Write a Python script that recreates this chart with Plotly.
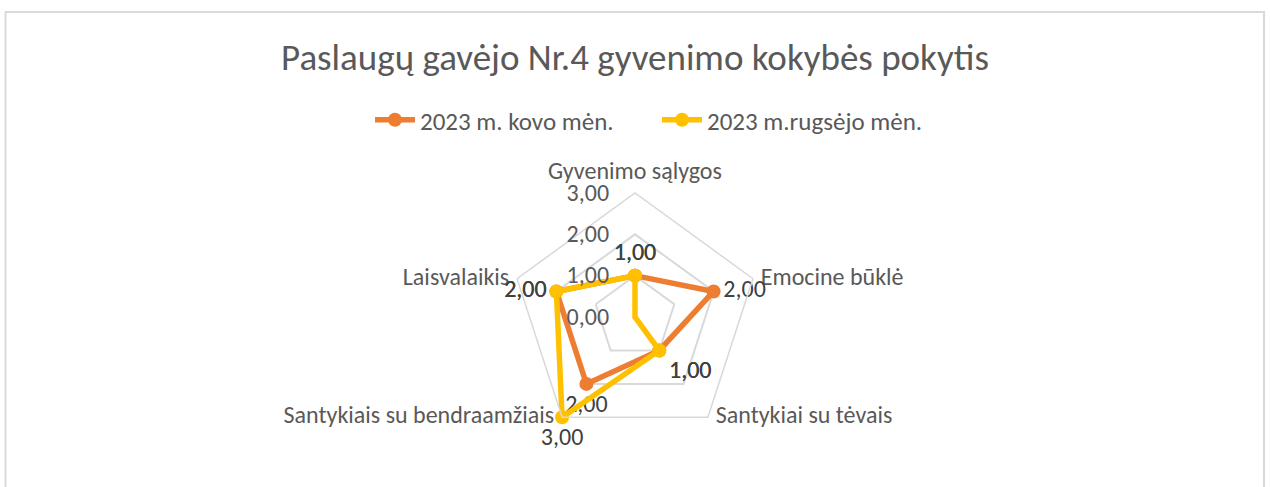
import plotly.graph_objects as go

categories = ["Gyvenimo sąlygos", "Emocine būklė", "Santykiai su tėvais",
              "Santykiais su bendraamžiais", "Laisvalaikis"]
series_names = ["2023 m. kovo mėn.", "2023 m.rugsėjo mėn."]
kovo_values = [1, 2, 1, 2, 2]
rugsejo_values = [1, 0, 1, 3, 2]
radial_ticks = [0, 1, 2, 3]
radial_max = 3

colors = ["#ED7D31", "#FFC000"]
label_pos = [
    ["top center", "middle right", "bottom right", "bottom center", "middle left"],
    ["top center", "middle right", "bottom right", "bottom center", "middle left"],
]
category_pos = ["top center", "middle right", "middle right", "middle left", "middle left"]

FONT = "Carlito, Calibri, Lato, sans-serif"
W, H = 1270, 487
cx, cy, R = 635, 317, 124

fig = go.Figure()

# category labels placed beside each outer vertex (like Excel)
fig.add_trace(go.Scatterpolar(
    r=[radial_max] * len(categories),
    theta=categories,
    mode="markers+text",
    marker=dict(size=11, color="rgba(0,0,0,0)"),
    text=categories,
    textposition=category_pos,
    textfont=dict(family=FONT, size=24, color="#595959"),
    showlegend=False,
    hoverinfo="skip",
    cliponaxis=False,
))

for i, (name, vals, col) in enumerate([(series_names[0], kovo_values, colors[0]),
                                       (series_names[1], rugsejo_values, colors[1])]):
    fig.add_trace(go.Scatterpolar(
        r=vals + vals[:1],
        theta=categories + categories[:1],
        name=name,
        mode="lines+markers+text",
        line=dict(color=col, width=5.5),
        marker=dict(color=col, size=14),
        text=[f"{v:.2f}".replace(".", ",") for v in vals] + [""],
        textposition=label_pos[i] + ["top center"],
        textfont=dict(family=FONT, size=24, color="#404040"),
        cliponaxis=False,
    ))

fig.update_layout(
    width=W, height=H,
    margin=dict(l=0, r=0, t=0, b=0),
    paper_bgcolor="white",
    separators=",.",
    font=dict(family=FONT, color="#595959"),
    title=dict(text="Paslaugų gavėjo Nr.4 gyvenimo kokybės pokytis",
               x=0.5, xanchor="center", y=1 - 57 / H, yanchor="middle",
               font=dict(family=FONT, size=37, color="#595959")),
    legend=dict(orientation="h", x=370 / W, xanchor="left", y=1 - 120 / H,
                yanchor="middle", font=dict(family=FONT, size=25, color="#595959"),
                itemwidth=40, entrywidth=232, entrywidthmode="pixels"),
    polar=dict(
        domain=dict(x=[(cx - R) / W, (cx + R) / W],
                    y=[(H - cy - R) / H, (H - cy + R) / H]),
        gridshape="linear",
        bgcolor="rgba(0,0,0,0)",
        radialaxis=dict(range=[0, radial_max], tickvals=radial_ticks, tickformat=".2f",
                        angle=90, tickangle=90, side="counterclockwise",
                        showline=False, gridcolor="#D9D9D9", gridwidth=1.5,
                        ticks="outside", ticklen=17, tickcolor="rgba(0,0,0,0)",
                        tickfont=dict(family=FONT, size=24, color="#595959")),
        angularaxis=dict(direction="clockwise", rotation=90, showgrid=False,
                         showline=True, linecolor="#D9D9D9", linewidth=1.5,
                         ticks="", showticklabels=False),
    ),
    shapes=[dict(type="rect", xref="paper", yref="paper",
                 x0=5.5 / W, x1=1264 / W, y0=-20 / H, y1=1 - 12 / H,
                 line=dict(color="#D9D9D9", width=2), fillcolor="rgba(0,0,0,0)")],
)

fig.write_html("out.html", config={"displayModeBar": False},
               post_script="document.body.style.margin='0';document.body.style.overflow='hidden';")
